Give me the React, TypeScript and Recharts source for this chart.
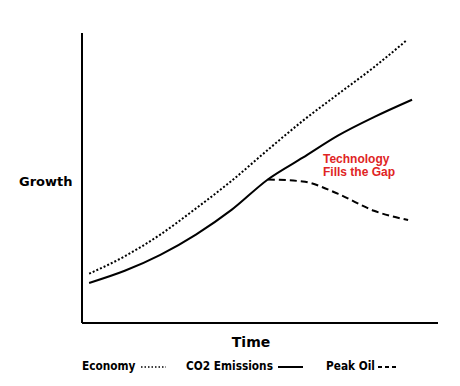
import React from 'react';
import { LineChart, Line, XAxis, YAxis, Legend, Label } from 'recharts';

// time position (0-100) and growth values
const economyX = [2, 12, 22, 32, 42, 52, 62, 72, 82, 91.3];
const economyY = [17, 23, 30.5, 39.5, 49, 59.5, 69.7, 79, 88.2, 97.6];

const co2X = [2, 12, 22, 32, 42, 52.2, 62, 72, 82, 92.7];
const co2Y = [13.8, 18, 23.5, 30.5, 39, 49.5, 57, 64.7, 71, 77];

const peakOilX = [52.2, 62, 72, 82, 91.6];
const peakOilY = [49.5, 48.8, 44.5, 38.7, 35.5];

const seriesNames = ['Economy', 'CO2 Emissions', 'Peak Oil'];

const build = (xs: number[], ys: number[]) => xs.map((t, i) => ({ t, v: ys[i] }));

const economy = build(economyX, economyY);
const co2 = build(co2X, co2Y);
const peakOil = build(peakOilX, peakOilY);

const labelFont = 'DejaVu Sans, Verdana, sans-serif';

// legend item placement (left of text, sample width, gap before sample)
const legendLayout: Record<string, { left: number; w: number; gap: number }> = {
  Economy: { left: 62, w: 25, gap: 6 },
  'CO2 Emissions': { left: 166, w: 25, gap: 5 },
  'Peak Oil': { left: 306, w: 18, gap: 3 },
};

const LegendRow = ({ payload }: any) => {
  const items = [...(payload || [])].sort(
    (a: any, b: any) => seriesNames.indexOf(a.value) - seriesNames.indexOf(b.value)
  );
  return (
    <div style={{ position: 'relative', top: 3, height: 20, fontFamily: 'DejaVu Sans Condensed, DejaVu Sans, sans-serif', fontWeight: 'bold', fontSize: 11.75, whiteSpace: 'nowrap' }}>
      {items.map((p: any) => {
        const lay = legendLayout[p.value];
        return (
          <div key={p.value} style={{ position: 'absolute', left: lay.left, top: 0, display: 'flex', alignItems: 'center', height: 20 }}>
            <span>{p.value}</span>
            <svg width={lay.w + 2} height={10} style={{ marginLeft: lay.gap }}>
              <line x1={0} y1={6} x2={lay.w} y2={6} stroke="#000" strokeWidth={p.value === 'Economy' ? 1.5 : 2} strokeDasharray={p.value === 'Peak Oil' ? '4 3' : p.value === 'Economy' ? '1.5 2' : undefined} />
            </svg>
          </div>
        );
      })}
    </div>
  );
};

const App = () => {
  return (
    <div style={{ position: 'absolute', left: 0, top: 0, background: '#fff' }}>
      <LineChart width={460} height={386} margin={{ top: 33, right: 22, left: 20, bottom: 13 }}>
        <XAxis
          type="number"
          dataKey="t"
          domain={[0, 100]}
          tick={false}
          tickLine={false}
          height={30}
          axisLine={{ stroke: '#000', strokeWidth: 2 }}
        >
          <Label
            value="Time"
            position="insideBottom"
            offset={6}
            dx={-9}
            style={{ fontFamily: labelFont, fontWeight: 'bold', fontSize: 14, fill: '#000' }}
          />
        </XAxis>
        <YAxis
          type="number"
          dataKey="v"
          domain={[0, 100]}
          tick={false}
          tickLine={false}
          width={62}
          axisLine={{ stroke: '#000', strokeWidth: 2 }}
        >
          <Label
            value="Growth"
            position="insideLeft"
            offset={-1}
            dy={3}
            style={{ fontFamily: labelFont, fontWeight: 'bold', fontSize: 13, fill: '#000' }}
          />
        </YAxis>
        <Legend verticalAlign="bottom" content={LegendRow} />
        <Line data={economy} dataKey="v" name="Economy" type="monotone" stroke="#000" strokeWidth={2} strokeDasharray="2 2" dot={false} isAnimationActive={false} />
        <Line data={co2} dataKey="v" name="CO2 Emissions" type="monotone" stroke="#000" strokeWidth={2} dot={false} isAnimationActive={false} />
        <Line data={peakOil} dataKey="v" name="Peak Oil" type="monotone" stroke="#000" strokeWidth={2} strokeDasharray="7 4" dot={false} isAnimationActive={false} />
      </LineChart>
      <div style={{ position: 'absolute', left: 323, top: 153, color: '#e02424', fontFamily: 'Liberation Sans, Arial, sans-serif', fontWeight: 'bold', fontSize: 12, lineHeight: '13px' }}>
        Technology
        <br />
        Fills the Gap
      </div>
    </div>
  );
};

export default App;
